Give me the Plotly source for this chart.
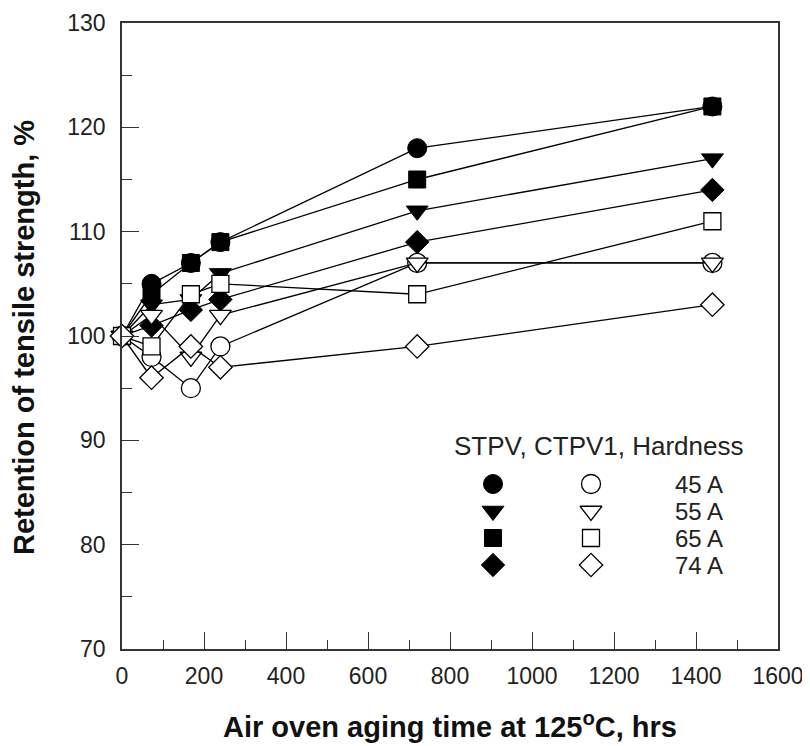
import plotly.graph_objects as go

# ---- data ----
hours = [0, 72, 168, 240, 720, 1440]
stpv_45 = [100, 105, 107, 109, 118, 122]
stpv_55 = [100, 103, 103.5, 106, 112, 117]
stpv_65 = [100, 104, 107, 109, 115, 122]
stpv_74 = [100, 101, 102.5, 103.5, 109, 114]
ctpv_45 = [100, 98, 95, 99, 107, 107]
ctpv_55 = [100, 102, 98, 102, 107, 107]
ctpv_65 = [100, 99, 104, 105, 104, 111]
ctpv_74 = [100, 96, 99, 97, 99, 103]
hardness_labels = ["45 A", "55 A", "65 A", "74 A"]
x_ticks = [0, 200, 400, 600, 800, 1000, 1200, 1400, 1600]
y_ticks = [70, 80, 90, 100, 110, 120, 130]

# ---- layout geometry (window pixels); page body has an 8px margin ----
OFF = 8
W, H = 810 - OFF, 746 - OFF
L, R, T, B = 122, 778, 23, 649          # plot area in window pixels
FONT = "Liberation Sans, Arial, sans-serif"

symbols = ["circle", "triangle-down", "square", "diamond"]
sizes = [19, 19, 17, 18]

fig = go.Figure()

stpv = [stpv_45, stpv_55, stpv_65, stpv_74]
ctpv = [ctpv_45, ctpv_55, ctpv_65, ctpv_74]

for vals, sym, sz in zip(stpv, symbols, sizes):
    fig.add_trace(go.Scatter(
        x=hours, y=vals, mode="lines+markers", cliponaxis=False,
        line=dict(color="black", width=1.3),
        marker=dict(symbol=sym, size=sz, color="black", line=dict(color="black", width=1)),
        showlegend=False))
for vals, sym, sz in zip(ctpv, symbols, sizes):
    fig.add_trace(go.Scatter(
        x=hours, y=vals, mode="lines+markers", cliponaxis=False,
        line=dict(color="black", width=1.3),
        marker=dict(symbol=sym, size=sz, color="white", line=dict(color="black", width=1.3)),
        showlegend=False))

# ---- custom legend on a pixel overlay axis ----
rows_y = [484, 511, 538, 565]
col_filled, col_open, col_text = 493, 591, 699
for i, (sym, sz) in enumerate(zip(symbols, sizes)):
    fig.add_trace(go.Scatter(x=[col_filled], y=[rows_y[i]], xaxis="x2", yaxis="y2",
                             mode="markers", showlegend=False, hoverinfo="skip",
                             marker=dict(symbol=sym, size=sz, color="black",
                                         line=dict(color="black", width=1))))
    fig.add_trace(go.Scatter(x=[col_open], y=[rows_y[i]], xaxis="x2", yaxis="y2",
                             mode="markers", showlegend=False, hoverinfo="skip",
                             marker=dict(symbol=sym, size=sz, color="white",
                                         line=dict(color="black", width=1.3))))
    fig.add_annotation(x=col_text, y=rows_y[i], xref="x2", yref="y2", text=hardness_labels[i],
                       showarrow=False, xanchor="center", yanchor="middle", borderpad=0,
                       font=dict(family=FONT, size=24, color="#222"))
fig.add_annotation(x=599, y=446, xref="x2", yref="y2", text="STPV, CTPV1, Hardness",
                   showarrow=False, xanchor="center", yanchor="middle",
                   font=dict(family=FONT, size=26, color="#222"))

def px_x(p):
    return (p - L) / (R - L)

def px_y(p):
    return (B - p) / (B - T)

# axis titles
fig.add_annotation(x=px_x(450), y=px_y(725), xref="paper", yref="paper",
                   text="Air oven aging time at 125<sup>o</sup>C, hrs", showarrow=False,
                   xanchor="center", yanchor="middle",
                   font=dict(family=FONT, size=29, color="#111", weight="bold"))
fig.add_annotation(x=px_x(24), y=px_y(338), xref="paper", yref="paper",
                   text="Retention of tensile strength, %", showarrow=False, textangle=-90,
                   xanchor="center", yanchor="middle",
                   font=dict(family=FONT, size=29, color="#111", weight="bold"))

axis_common = dict(showgrid=False, zeroline=False, showline=True, linecolor="#333",
                   linewidth=1.5, mirror=True, ticks="inside", tickcolor="#333",
                   tickwidth=1.3, ticklen=17, automargin=False,
                   tickfont=dict(family=FONT, size=23, color="#222"))

fig.update_layout(
    width=W, height=H, autosize=False,
    margin=dict(l=L - OFF, r=W + OFF - R, t=T - OFF, b=H + OFF - B, pad=0),
    paper_bgcolor="white", plot_bgcolor="white",
    xaxis=dict(range=[0, 1600], tickvals=x_ticks, ticklabelstandoff=6,
               minor=dict(dtick=100, ticks="inside", ticklen=9, tickcolor="#333", tickwidth=1.3),
               **axis_common),
    yaxis=dict(range=[70, 130], tickvals=y_ticks, ticklabelstandoff=10,
               minor=dict(dtick=5, ticks="inside", ticklen=10, tickcolor="#333", tickwidth=1.3),
               **axis_common),
    xaxis2=dict(overlaying="x", range=[L, R], visible=False),
    yaxis2=dict(overlaying="y", range=[B, T], visible=False),
    showlegend=False,
)

fig.write_html("out.html")
